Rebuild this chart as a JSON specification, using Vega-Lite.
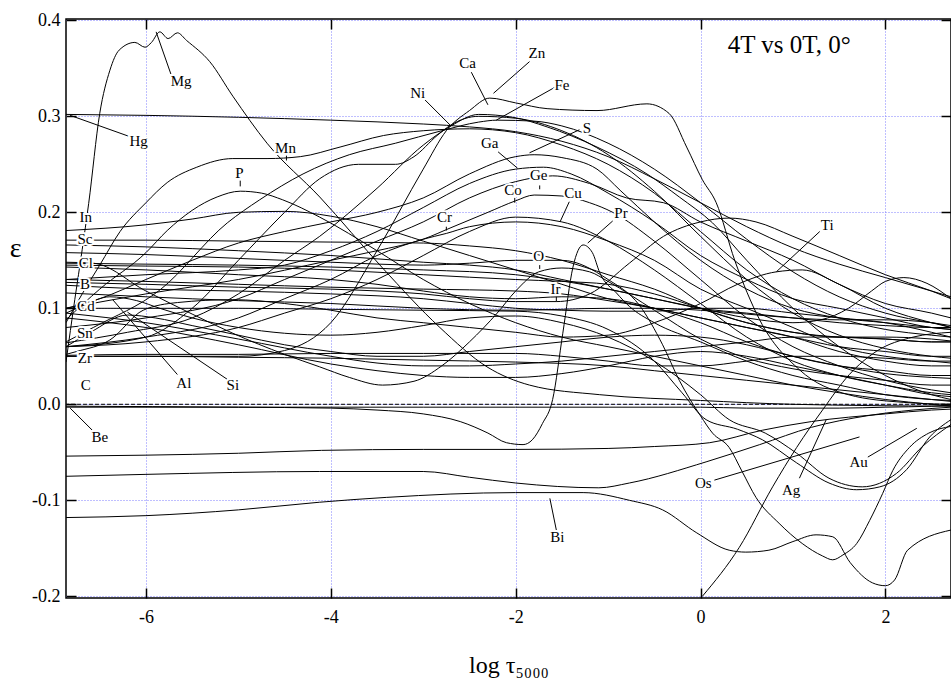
{
"$schema":"https://vega.github.io/schema/vega-lite/v6.json",
"width":885,"height":579,
"autosize":{"type":"none"},
"padding":{"left":66,"top":19,"right":0,"bottom":89},
"background":"white",
"config":{"view":{"stroke":"black","strokeWidth":1.5},"font":"Liberation Serif"},
"datasets":{
"curves":[
{"s":"Mg","x":-6.865,"y":0.044},{"s":"Mg","x":-6.77,"y":0.109},{"s":"Mg","x":-6.69,"y":0.161},{"s":"Mg","x":-6.62,"y":0.209},{"s":"Mg","x":-6.5,"y":0.303},{"s":"Mg","x":-6.39,"y":0.348},{"s":"Mg","x":-6.29,"y":0.369},{"s":"Mg","x":-6.12,"y":0.377},{"s":"Mg","x":-6.01,"y":0.372},{"s":"Mg","x":-5.94,"y":0.377},{"s":"Mg","x":-5.85,"y":0.388},{"s":"Mg","x":-5.76,"y":0.381},{"s":"Mg","x":-5.66,"y":0.387},{"s":"Mg","x":-5.56,"y":0.379},{"s":"Mg","x":-5.31,"y":0.357},{"s":"Mg","x":-5.06,"y":0.321},{"s":"Mg","x":-4.69,"y":0.272},{"s":"Mg","x":-4.12,"y":0.216},{"s":"Mg","x":-3.44,"y":0.142},{"s":"Mg","x":-2.82,"y":0.08},{"s":"Mg","x":-2.31,"y":0.039},{"s":"Mg","x":-1.85,"y":0.02},{"s":"Mg","x":-1.09,"y":0.01},{"s":"Mg","x":0,"y":0.004},{"s":"Mg","x":1,"y":0.0},{"s":"Mg","x":2.71,"y":-0.002},
{"s":"Hg","x":-6.865,"y":0.302},{"s":"Hg","x":-6,"y":0.301},{"s":"Hg","x":-5,"y":0.299},{"s":"Hg","x":-4,"y":0.296},{"s":"Hg","x":-3,"y":0.292},{"s":"Hg","x":-2.5,"y":0.289},{"s":"Hg","x":-2,"y":0.284},{"s":"Hg","x":-1.5,"y":0.274},{"s":"Hg","x":-1,"y":0.258},{"s":"Hg","x":-0.5,"y":0.235},{"s":"Hg","x":0,"y":0.21},{"s":"Hg","x":0.5,"y":0.185},{"s":"Hg","x":1,"y":0.163},{"s":"Hg","x":1.5,"y":0.146},{"s":"Hg","x":2,"y":0.132},{"s":"Hg","x":2.5,"y":0.118},{"s":"Hg","x":2.71,"y":0.112},
{"s":"Zn","x":-6.865,"y":0.05},{"s":"Zn","x":-6,"y":0.05},{"s":"Zn","x":-5,"y":0.05},{"s":"Zn","x":-4.5,"y":0.056},{"s":"Zn","x":-4,"y":0.085},{"s":"Zn","x":-3.5,"y":0.16},{"s":"Zn","x":-3,"y":0.245},{"s":"Zn","x":-2.75,"y":0.285},{"s":"Zn","x":-2.5,"y":0.306},{"s":"Zn","x":-2.28,"y":0.319},{"s":"Zn","x":-2,"y":0.314},{"s":"Zn","x":-1.66,"y":0.308},{"s":"Zn","x":-1.12,"y":0.306},{"s":"Zn","x":-0.58,"y":0.313},{"s":"Zn","x":-0.34,"y":0.303},{"s":"Zn","x":-0.15,"y":0.268},{"s":"Zn","x":0.02,"y":0.234},{"s":"Zn","x":0.17,"y":0.21},{"s":"Zn","x":0.37,"y":0.15},{"s":"Zn","x":0.64,"y":0.088},{"s":"Zn","x":1.07,"y":0.036},{"s":"Zn","x":1.6,"y":0.01},{"s":"Zn","x":2.2,"y":0.002},{"s":"Zn","x":2.71,"y":0.0},
{"s":"Ca","x":-6.865,"y":0.064},{"s":"Ca","x":-6.2,"y":0.075},{"s":"Ca","x":-5.5,"y":0.09},{"s":"Ca","x":-5,"y":0.115},{"s":"Ca","x":-4.5,"y":0.15},{"s":"Ca","x":-4.12,"y":0.175},{"s":"Ca","x":-3.5,"y":0.225},{"s":"Ca","x":-3,"y":0.27},{"s":"Ca","x":-2.7,"y":0.29},{"s":"Ca","x":-2.4,"y":0.302},{"s":"Ca","x":-2.03,"y":0.299},{"s":"Ca","x":-1.66,"y":0.289},{"s":"Ca","x":-1.12,"y":0.268},{"s":"Ca","x":-0.58,"y":0.24},{"s":"Ca","x":-0.23,"y":0.216},{"s":"Ca","x":0.13,"y":0.189},{"s":"Ca","x":0.5,"y":0.15},{"s":"Ca","x":1,"y":0.1},{"s":"Ca","x":1.5,"y":0.06},{"s":"Ca","x":2,"y":0.03},{"s":"Ca","x":2.5,"y":0.01},{"s":"Ca","x":2.71,"y":0.005},
{"s":"Ni","x":-6.865,"y":0.06},{"s":"Ni","x":-6,"y":0.07},{"s":"Ni","x":-5.5,"y":0.1},{"s":"Ni","x":-5,"y":0.15},{"s":"Ni","x":-4.5,"y":0.2},{"s":"Ni","x":-4.12,"y":0.235},{"s":"Ni","x":-3.7,"y":0.25},{"s":"Ni","x":-3.3,"y":0.25},{"s":"Ni","x":-3.1,"y":0.258},{"s":"Ni","x":-2.85,"y":0.28},{"s":"Ni","x":-2.7,"y":0.291},{"s":"Ni","x":-2.4,"y":0.3},{"s":"Ni","x":-2,"y":0.298},{"s":"Ni","x":-1.5,"y":0.285},{"s":"Ni","x":-1,"y":0.26},{"s":"Ni","x":-0.5,"y":0.222},{"s":"Ni","x":0,"y":0.175},{"s":"Ni","x":0.5,"y":0.13},{"s":"Ni","x":1,"y":0.095},{"s":"Ni","x":1.5,"y":0.072},{"s":"Ni","x":2,"y":0.058},{"s":"Ni","x":2.5,"y":0.05},{"s":"Ni","x":2.71,"y":0.048},
{"s":"Fe","x":-6.865,"y":0.065},{"s":"Fe","x":-6.57,"y":0.08},{"s":"Fe","x":-5.85,"y":0.119},{"s":"Fe","x":-5.12,"y":0.189},{"s":"Fe","x":-4.77,"y":0.213},{"s":"Fe","x":-4.3,"y":0.24},{"s":"Fe","x":-3.8,"y":0.26},{"s":"Fe","x":-3.3,"y":0.272},{"s":"Fe","x":-2.8,"y":0.285},{"s":"Fe","x":-2.4,"y":0.294},{"s":"Fe","x":-2.2,"y":0.296},{"s":"Fe","x":-1.8,"y":0.295},{"s":"Fe","x":-1.5,"y":0.29},{"s":"Fe","x":-1,"y":0.272},{"s":"Fe","x":-0.5,"y":0.245},{"s":"Fe","x":0,"y":0.21},{"s":"Fe","x":0.5,"y":0.172},{"s":"Fe","x":1,"y":0.138},{"s":"Fe","x":1.5,"y":0.112},{"s":"Fe","x":2,"y":0.095},{"s":"Fe","x":2.5,"y":0.085},{"s":"Fe","x":2.71,"y":0.082},
{"s":"Mn","x":-6.865,"y":0.085},{"s":"Mn","x":-6.69,"y":0.115},{"s":"Mn","x":-6.5,"y":0.145},{"s":"Mn","x":-6.28,"y":0.18},{"s":"Mn","x":-6,"y":0.21},{"s":"Mn","x":-5.77,"y":0.231},{"s":"Mn","x":-5.45,"y":0.247},{"s":"Mn","x":-5.06,"y":0.256},{"s":"Mn","x":-4.69,"y":0.256},{"s":"Mn","x":-4.33,"y":0.258},{"s":"Mn","x":-3.9,"y":0.268},{"s":"Mn","x":-3.43,"y":0.28},{"s":"Mn","x":-3,"y":0.285},{"s":"Mn","x":-2.5,"y":0.287},{"s":"Mn","x":-2,"y":0.283},{"s":"Mn","x":-1.5,"y":0.27},{"s":"Mn","x":-1,"y":0.25},{"s":"Mn","x":-0.5,"y":0.22},{"s":"Mn","x":0,"y":0.18},{"s":"Mn","x":0.5,"y":0.14},{"s":"Mn","x":1,"y":0.11},{"s":"Mn","x":1.5,"y":0.09},{"s":"Mn","x":2,"y":0.078},{"s":"Mn","x":2.5,"y":0.072},{"s":"Mn","x":2.71,"y":0.07},
{"s":"S","x":-6.865,"y":0.1},{"s":"S","x":-6.5,"y":0.11},{"s":"S","x":-6,"y":0.13},{"s":"S","x":-5.5,"y":0.15},{"s":"S","x":-5,"y":0.168},{"s":"S","x":-4.5,"y":0.18},{"s":"S","x":-4,"y":0.19},{"s":"S","x":-3.5,"y":0.2},{"s":"S","x":-3,"y":0.215},{"s":"S","x":-2.5,"y":0.24},{"s":"S","x":-2,"y":0.258},{"s":"S","x":-1.8,"y":0.26},{"s":"S","x":-1.5,"y":0.257},{"s":"S","x":-1.12,"y":0.245},{"s":"S","x":-0.87,"y":0.223},{"s":"S","x":-0.5,"y":0.19},{"s":"S","x":0,"y":0.15},{"s":"S","x":0.5,"y":0.12},{"s":"S","x":1,"y":0.1},{"s":"S","x":1.5,"y":0.09},{"s":"S","x":2,"y":0.085},{"s":"S","x":2.5,"y":0.08},{"s":"S","x":2.71,"y":0.078},
{"s":"Ga","x":-6.865,"y":0.13},{"s":"Ga","x":-6,"y":0.135},{"s":"Ga","x":-5,"y":0.14},{"s":"Ga","x":-4.5,"y":0.145},{"s":"Ga","x":-4,"y":0.16},{"s":"Ga","x":-3.5,"y":0.18},{"s":"Ga","x":-3,"y":0.205},{"s":"Ga","x":-2.5,"y":0.23},{"s":"Ga","x":-2,"y":0.245},{"s":"Ga","x":-1.7,"y":0.247},{"s":"Ga","x":-1.4,"y":0.24},{"s":"Ga","x":-1,"y":0.22},{"s":"Ga","x":-0.5,"y":0.19},{"s":"Ga","x":0,"y":0.155},{"s":"Ga","x":0.5,"y":0.13},{"s":"Ga","x":1,"y":0.11},{"s":"Ga","x":1.5,"y":0.1},{"s":"Ga","x":2,"y":0.09},{"s":"Ga","x":2.5,"y":0.08},{"s":"Ga","x":2.71,"y":0.078},
{"s":"Ge","x":-6.865,"y":0.08},{"s":"Ge","x":-6,"y":0.09},{"s":"Ge","x":-5,"y":0.11},{"s":"Ge","x":-4.5,"y":0.13},{"s":"Ge","x":-4,"y":0.15},{"s":"Ge","x":-3.5,"y":0.17},{"s":"Ge","x":-3,"y":0.19},{"s":"Ge","x":-2.5,"y":0.215},{"s":"Ge","x":-2,"y":0.232},{"s":"Ge","x":-1.6,"y":0.238},{"s":"Ge","x":-1.2,"y":0.23},{"s":"Ge","x":-0.8,"y":0.215},{"s":"Ge","x":-0.4,"y":0.21},{"s":"Ge","x":0,"y":0.19},{"s":"Ge","x":0.5,"y":0.17},{"s":"Ge","x":1,"y":0.15},{"s":"Ge","x":1.5,"y":0.125},{"s":"Ge","x":2,"y":0.105},{"s":"Ge","x":2.5,"y":0.095},{"s":"Ge","x":2.71,"y":0.09},
{"s":"Co","x":-6.865,"y":0.1},{"s":"Co","x":-6,"y":0.115},{"s":"Co","x":-5,"y":0.13},{"s":"Co","x":-4,"y":0.15},{"s":"Co","x":-3.5,"y":0.16},{"s":"Co","x":-3,"y":0.172},{"s":"Co","x":-2.7,"y":0.184},{"s":"Co","x":-2.3,"y":0.2},{"s":"Co","x":-2,"y":0.212},{"s":"Co","x":-1.8,"y":0.218},{"s":"Co","x":-1.5,"y":0.217},{"s":"Co","x":-1.2,"y":0.21},{"s":"Co","x":-0.95,"y":0.2},{"s":"Co","x":-0.5,"y":0.17},{"s":"Co","x":0,"y":0.13},{"s":"Co","x":0.5,"y":0.09},{"s":"Co","x":1,"y":0.06},{"s":"Co","x":1.5,"y":0.04},{"s":"Co","x":2,"y":0.025},{"s":"Co","x":2.5,"y":0.015},{"s":"Co","x":2.71,"y":0.012},
{"s":"Cu","x":-6.865,"y":0.06},{"s":"Cu","x":-6,"y":0.065},{"s":"Cu","x":-5,"y":0.08},{"s":"Cu","x":-4.5,"y":0.095},{"s":"Cu","x":-4,"y":0.11},{"s":"Cu","x":-3.5,"y":0.13},{"s":"Cu","x":-3,"y":0.155},{"s":"Cu","x":-2.5,"y":0.18},{"s":"Cu","x":-2,"y":0.195},{"s":"Cu","x":-1.5,"y":0.19},{"s":"Cu","x":-1,"y":0.17},{"s":"Cu","x":-0.5,"y":0.14},{"s":"Cu","x":0,"y":0.105},{"s":"Cu","x":0.5,"y":0.07},{"s":"Cu","x":1,"y":0.045},{"s":"Cu","x":1.5,"y":0.03},{"s":"Cu","x":2,"y":0.02},{"s":"Cu","x":2.5,"y":0.012},{"s":"Cu","x":2.71,"y":0.01},
{"s":"Cr","x":-6.865,"y":0.06},{"s":"Cr","x":-6,"y":0.07},{"s":"Cr","x":-5,"y":0.09},{"s":"Cr","x":-4.5,"y":0.11},{"s":"Cr","x":-4,"y":0.13},{"s":"Cr","x":-3.5,"y":0.155},{"s":"Cr","x":-3,"y":0.172},{"s":"Cr","x":-2.75,"y":0.178},{"s":"Cr","x":-2.5,"y":0.185},{"s":"Cr","x":-2,"y":0.19},{"s":"Cr","x":-1.5,"y":0.185},{"s":"Cr","x":-1,"y":0.17},{"s":"Cr","x":-0.5,"y":0.15},{"s":"Cr","x":0,"y":0.12},{"s":"Cr","x":0.5,"y":0.1},{"s":"Cr","x":1,"y":0.08},{"s":"Cr","x":1.5,"y":0.06},{"s":"Cr","x":2,"y":0.05},{"s":"Cr","x":2.5,"y":0.045},{"s":"Cr","x":2.71,"y":0.043},
{"s":"P","x":-6.865,"y":0.088},{"s":"P","x":-6.5,"y":0.12},{"s":"P","x":-6,"y":0.158},{"s":"P","x":-5.77,"y":0.181},{"s":"P","x":-5.23,"y":0.216},{"s":"P","x":-4.98,"y":0.222},{"s":"P","x":-4.75,"y":0.22},{"s":"P","x":-4.52,"y":0.213},{"s":"P","x":-4.12,"y":0.195},{"s":"P","x":-3.5,"y":0.16},{"s":"P","x":-3,"y":0.13},{"s":"P","x":-2.5,"y":0.105},{"s":"P","x":-2,"y":0.085},{"s":"P","x":-1.5,"y":0.07},{"s":"P","x":-1,"y":0.06},{"s":"P","x":-0.5,"y":0.05},{"s":"P","x":0,"y":0.04},{"s":"P","x":0.5,"y":0.03},{"s":"P","x":1,"y":0.02},{"s":"P","x":1.5,"y":0.012},{"s":"P","x":2,"y":0.005},{"s":"P","x":2.5,"y":0.0},{"s":"P","x":2.71,"y":-0.002},
{"s":"In","x":-6.865,"y":0.181},{"s":"In","x":-6,"y":0.187},{"s":"In","x":-5.5,"y":0.193},{"s":"In","x":-5,"y":0.2},{"s":"In","x":-4.5,"y":0.201},{"s":"In","x":-4,"y":0.196},{"s":"In","x":-3.5,"y":0.185},{"s":"In","x":-3,"y":0.17},{"s":"In","x":-2.5,"y":0.155},{"s":"In","x":-2,"y":0.14},{"s":"In","x":-1.5,"y":0.125},{"s":"In","x":-1,"y":0.11},{"s":"In","x":-0.5,"y":0.1},{"s":"In","x":0,"y":0.09},{"s":"In","x":0.5,"y":0.08},{"s":"In","x":1,"y":0.07},{"s":"In","x":1.5,"y":0.06},{"s":"In","x":2,"y":0.055},{"s":"In","x":2.5,"y":0.05},{"s":"In","x":2.71,"y":0.05},
{"s":"Sc1","x":-6.865,"y":0.171},{"s":"Sc1","x":-6,"y":0.171},{"s":"Sc1","x":-5,"y":0.17},{"s":"Sc1","x":-4,"y":0.169},{"s":"Sc1","x":-3,"y":0.168},{"s":"Sc1","x":-2.5,"y":0.165},{"s":"Sc1","x":-2,"y":0.16},{"s":"Sc1","x":-1.5,"y":0.15},{"s":"Sc1","x":-1,"y":0.135},{"s":"Sc1","x":-0.5,"y":0.12},{"s":"Sc1","x":0,"y":0.1},{"s":"Sc1","x":0.5,"y":0.085},{"s":"Sc1","x":1,"y":0.075},{"s":"Sc1","x":1.5,"y":0.07},{"s":"Sc1","x":2,"y":0.07},{"s":"Sc1","x":2.5,"y":0.068},{"s":"Sc1","x":2.71,"y":0.066},
{"s":"Sc2","x":-6.865,"y":0.166},{"s":"Sc2","x":-6,"y":0.164},{"s":"Sc2","x":-5,"y":0.16},{"s":"Sc2","x":-4,"y":0.155},{"s":"Sc2","x":-3,"y":0.148},{"s":"Sc2","x":-2.5,"y":0.145},{"s":"Sc2","x":-2,"y":0.14},{"s":"Sc2","x":-1.5,"y":0.13},{"s":"Sc2","x":-1,"y":0.12},{"s":"Sc2","x":-0.5,"y":0.11},{"s":"Sc2","x":0,"y":0.1},{"s":"Sc2","x":0.5,"y":0.095},{"s":"Sc2","x":1,"y":0.09},{"s":"Sc2","x":1.5,"y":0.085},{"s":"Sc2","x":2,"y":0.082},{"s":"Sc2","x":2.5,"y":0.08},{"s":"Sc2","x":2.71,"y":0.08},
{"s":"Sc3","x":-6.865,"y":0.158},{"s":"Sc3","x":-6,"y":0.156},{"s":"Sc3","x":-5,"y":0.152},{"s":"Sc3","x":-4,"y":0.148},{"s":"Sc3","x":-3,"y":0.145},{"s":"Sc3","x":-2.5,"y":0.147},{"s":"Sc3","x":-2,"y":0.15},{"s":"Sc3","x":-1.5,"y":0.15},{"s":"Sc3","x":-1,"y":0.13},{"s":"Sc3","x":-0.66,"y":0.103},{"s":"Sc3","x":-0.41,"y":0.062},{"s":"Sc3","x":-0.23,"y":0.025},{"s":"Sc3","x":0,"y":-0.012},{"s":"Sc3","x":0.13,"y":-0.03},{"s":"Sc3","x":0.31,"y":-0.045},{"s":"Sc3","x":0.45,"y":-0.07},{"s":"Sc3","x":0.6,"y":-0.097},{"s":"Sc3","x":0.85,"y":-0.124},{"s":"Sc3","x":1.1,"y":-0.145},{"s":"Sc3","x":1.32,"y":-0.158},{"s":"Sc3","x":1.43,"y":-0.162},{"s":"Sc3","x":1.54,"y":-0.157},{"s":"Sc3","x":1.69,"y":-0.145},{"s":"Sc3","x":1.83,"y":-0.121},{"s":"Sc3","x":1.97,"y":-0.093},{"s":"Sc3","x":2.08,"y":-0.069},{"s":"Sc3","x":2.26,"y":-0.045},{"s":"Sc3","x":2.47,"y":-0.03},{"s":"Sc3","x":2.71,"y":-0.023},
{"s":"Cl1","x":-6.865,"y":0.145},{"s":"Cl1","x":-6,"y":0.144},{"s":"Cl1","x":-5,"y":0.143},{"s":"Cl1","x":-4,"y":0.14},{"s":"Cl1","x":-3,"y":0.135},{"s":"Cl1","x":-2,"y":0.13},{"s":"Cl1","x":-1.5,"y":0.128},{"s":"Cl1","x":-1,"y":0.125},{"s":"Cl1","x":-0.5,"y":0.115},{"s":"Cl1","x":0,"y":0.1},{"s":"Cl1","x":0.5,"y":0.085},{"s":"Cl1","x":1,"y":0.075},{"s":"Cl1","x":1.5,"y":0.07},{"s":"Cl1","x":2,"y":0.068},{"s":"Cl1","x":2.5,"y":0.065},{"s":"Cl1","x":2.71,"y":0.065},
{"s":"Cl2","x":-6.865,"y":0.143},{"s":"Cl2","x":-6,"y":0.14},{"s":"Cl2","x":-5,"y":0.135},{"s":"Cl2","x":-4,"y":0.13},{"s":"Cl2","x":-3.5,"y":0.125},{"s":"Cl2","x":-3,"y":0.118},{"s":"Cl2","x":-2.5,"y":0.112},{"s":"Cl2","x":-2,"y":0.11},{"s":"Cl2","x":-1.5,"y":0.112},{"s":"Cl2","x":-1,"y":0.11},{"s":"Cl2","x":-0.5,"y":0.1},{"s":"Cl2","x":0,"y":0.085},{"s":"Cl2","x":0.5,"y":0.065},{"s":"Cl2","x":1,"y":0.05},{"s":"Cl2","x":1.5,"y":0.04},{"s":"Cl2","x":2,"y":0.035},{"s":"Cl2","x":2.5,"y":0.03},{"s":"Cl2","x":2.71,"y":0.03},
{"s":"Cl3","x":-6.865,"y":0.147},{"s":"Cl3","x":-6,"y":0.146},{"s":"Cl3","x":-5,"y":0.145},{"s":"Cl3","x":-4,"y":0.143},{"s":"Cl3","x":-3,"y":0.14},{"s":"Cl3","x":-2,"y":0.135},{"s":"Cl3","x":-1,"y":0.12},{"s":"Cl3","x":-0.5,"y":0.11},{"s":"Cl3","x":0,"y":0.1},{"s":"Cl3","x":0.5,"y":0.09},{"s":"Cl3","x":1,"y":0.085},{"s":"Cl3","x":1.3,"y":0.088},{"s":"Cl3","x":1.6,"y":0.1},{"s":"Cl3","x":1.85,"y":0.118},{"s":"Cl3","x":2.0,"y":0.128},{"s":"Cl3","x":2.2,"y":0.132},{"s":"Cl3","x":2.45,"y":0.126},{"s":"Cl3","x":2.71,"y":0.11},
{"s":"B1","x":-6.865,"y":0.13},{"s":"B1","x":-6,"y":0.128},{"s":"B1","x":-5,"y":0.125},{"s":"B1","x":-4,"y":0.122},{"s":"B1","x":-3,"y":0.12},{"s":"B1","x":-2,"y":0.118},{"s":"B1","x":-1.5,"y":0.115},{"s":"B1","x":-1,"y":0.108},{"s":"B1","x":-0.5,"y":0.1},{"s":"B1","x":0,"y":0.09},{"s":"B1","x":0.5,"y":0.08},{"s":"B1","x":1,"y":0.07},{"s":"B1","x":1.5,"y":0.055},{"s":"B1","x":2,"y":0.045},{"s":"B1","x":2.5,"y":0.04},{"s":"B1","x":2.71,"y":0.04},
{"s":"B2","x":-6.865,"y":0.124},{"s":"B2","x":-6,"y":0.12},{"s":"B2","x":-5,"y":0.118},{"s":"B2","x":-4,"y":0.115},{"s":"B2","x":-3,"y":0.11},{"s":"B2","x":-2.5,"y":0.105},{"s":"B2","x":-2,"y":0.1},{"s":"B2","x":-1.5,"y":0.098},{"s":"B2","x":-1,"y":0.097},{"s":"B2","x":-0.5,"y":0.097},{"s":"B2","x":0,"y":0.1},{"s":"B2","x":0.5,"y":0.1},{"s":"B2","x":1,"y":0.095},{"s":"B2","x":1.5,"y":0.09},{"s":"B2","x":2,"y":0.085},{"s":"B2","x":2.5,"y":0.075},{"s":"B2","x":2.71,"y":0.07},
{"s":"B3","x":-6.865,"y":0.116},{"s":"B3","x":-6,"y":0.112},{"s":"B3","x":-5,"y":0.108},{"s":"B3","x":-4,"y":0.105},{"s":"B3","x":-3,"y":0.1},{"s":"B3","x":-2,"y":0.098},{"s":"B3","x":-1,"y":0.1},{"s":"B3","x":-0.5,"y":0.1},{"s":"B3","x":0,"y":0.098},{"s":"B3","x":0.5,"y":0.094},{"s":"B3","x":1,"y":0.09},{"s":"B3","x":1.5,"y":0.088},{"s":"B3","x":2,"y":0.088},{"s":"B3","x":2.5,"y":0.085},{"s":"B3","x":2.71,"y":0.08},
{"s":"Ir","x":-6.865,"y":0.127},{"s":"Ir","x":-6,"y":0.125},{"s":"Ir","x":-5,"y":0.122},{"s":"Ir","x":-4,"y":0.12},{"s":"Ir","x":-3,"y":0.115},{"s":"Ir","x":-2.5,"y":0.11},{"s":"Ir","x":-2,"y":0.107},{"s":"Ir","x":-1.56,"y":0.107},{"s":"Ir","x":-1.2,"y":0.115},{"s":"Ir","x":-0.77,"y":0.147},{"s":"Ir","x":-0.4,"y":0.175},{"s":"Ir","x":0,"y":0.19},{"s":"Ir","x":0.31,"y":0.194},{"s":"Ir","x":0.6,"y":0.19},{"s":"Ir","x":1,"y":0.175},{"s":"Ir","x":1.5,"y":0.155},{"s":"Ir","x":2,"y":0.135},{"s":"Ir","x":2.5,"y":0.118},{"s":"Ir","x":2.71,"y":0.11},
{"s":"Cd","x":-6.865,"y":0.1},{"s":"Cd","x":-6,"y":0.1},{"s":"Cd","x":-5,"y":0.1},{"s":"Cd","x":-4,"y":0.099},{"s":"Cd","x":-3,"y":0.098},{"s":"Cd","x":-2,"y":0.097},{"s":"Cd","x":-1.5,"y":0.092},{"s":"Cd","x":-1,"y":0.078},{"s":"Cd","x":-0.5,"y":0.045},{"s":"Cd","x":-0.2,"y":0.012},{"s":"Cd","x":0.06,"y":-0.016},{"s":"Cd","x":0.4,"y":-0.026},{"s":"Cd","x":0.67,"y":-0.037},{"s":"Cd","x":1.04,"y":-0.061},{"s":"Cd","x":1.39,"y":-0.082},{"s":"Cd","x":1.69,"y":-0.089},{"s":"Cd","x":1.94,"y":-0.086},{"s":"Cd","x":2.23,"y":-0.068},{"s":"Cd","x":2.48,"y":-0.034},{"s":"Cd","x":2.71,"y":-0.016},
{"s":"O","x":-6.865,"y":0.148},{"s":"O","x":-6.57,"y":0.147},{"s":"O","x":-6,"y":0.118},{"s":"O","x":-5.5,"y":0.094},{"s":"O","x":-5.06,"y":0.074},{"s":"O","x":-4.5,"y":0.052},{"s":"O","x":-4.12,"y":0.039},{"s":"O","x":-3.8,"y":0.028},{"s":"O","x":-3.44,"y":0.02},{"s":"O","x":-3.1,"y":0.024},{"s":"O","x":-2.8,"y":0.04},{"s":"O","x":-2.5,"y":0.065},{"s":"O","x":-2.2,"y":0.095},{"s":"O","x":-2,"y":0.118},{"s":"O","x":-1.75,"y":0.138},{"s":"O","x":-1.5,"y":0.142},{"s":"O","x":-1.2,"y":0.138},{"s":"O","x":-1,"y":0.128},{"s":"O","x":-0.5,"y":0.098},{"s":"O","x":0,"y":0.068},{"s":"O","x":0.5,"y":0.048},{"s":"O","x":1,"y":0.037},{"s":"O","x":1.5,"y":0.03},{"s":"O","x":2,"y":0.025},{"s":"O","x":2.5,"y":0.02},{"s":"O","x":2.71,"y":0.02},
{"s":"Al","x":-6.865,"y":0.095},{"s":"Al","x":-6.7,"y":0.102},{"s":"Al","x":-6.39,"y":0.112},{"s":"Al","x":-6.1,"y":0.108},{"s":"Al","x":-5.85,"y":0.1},{"s":"Al","x":-5.5,"y":0.09},{"s":"Al","x":-5,"y":0.08},{"s":"Al","x":-4.5,"y":0.074},{"s":"Al","x":-4,"y":0.072},{"s":"Al","x":-3.5,"y":0.075},{"s":"Al","x":-3,"y":0.082},{"s":"Al","x":-2.5,"y":0.09},{"s":"Al","x":-2,"y":0.092},{"s":"Al","x":-1.5,"y":0.085},{"s":"Al","x":-1,"y":0.07},{"s":"Al","x":-0.5,"y":0.045},{"s":"Al","x":0,"y":0.01},{"s":"Al","x":0.31,"y":-0.016},{"s":"Al","x":0.7,"y":-0.03},{"s":"Al","x":1.04,"y":-0.051},{"s":"Al","x":1.39,"y":-0.077},{"s":"Al","x":1.75,"y":-0.086},{"s":"Al","x":2.12,"y":-0.072},{"s":"Al","x":2.4,"y":-0.044},{"s":"Al","x":2.71,"y":-0.021},
{"s":"Si","x":-6.865,"y":0.06},{"s":"Si","x":-6.6,"y":0.075},{"s":"Si","x":-6.2,"y":0.093},{"s":"Si","x":-5.9,"y":0.09},{"s":"Si","x":-5.5,"y":0.082},{"s":"Si","x":-5,"y":0.072},{"s":"Si","x":-4.5,"y":0.062},{"s":"Si","x":-4,"y":0.055},{"s":"Si","x":-3.5,"y":0.05},{"s":"Si","x":-3,"y":0.05},{"s":"Si","x":-2.5,"y":0.055},{"s":"Si","x":-2,"y":0.06},{"s":"Si","x":-1.5,"y":0.065},{"s":"Si","x":-1,"y":0.07},{"s":"Si","x":-0.5,"y":0.072},{"s":"Si","x":0,"y":0.07},{"s":"Si","x":0.5,"y":0.062},{"s":"Si","x":1,"y":0.05},{"s":"Si","x":1.5,"y":0.04},{"s":"Si","x":2,"y":0.032},{"s":"Si","x":2.5,"y":0.028},{"s":"Si","x":2.71,"y":0.027},
{"s":"Sn1","x":-6.865,"y":0.095},{"s":"Sn1","x":-6,"y":0.085},{"s":"Sn1","x":-5,"y":0.068},{"s":"Sn1","x":-4,"y":0.05},{"s":"Sn1","x":-3.5,"y":0.043},{"s":"Sn1","x":-3,"y":0.04},{"s":"Sn1","x":-2.5,"y":0.04},{"s":"Sn1","x":-2,"y":0.042},{"s":"Sn1","x":-1.5,"y":0.045},{"s":"Sn1","x":-1,"y":0.05},{"s":"Sn1","x":-0.5,"y":0.055},{"s":"Sn1","x":0,"y":0.06},{"s":"Sn1","x":0.5,"y":0.065},{"s":"Sn1","x":1,"y":0.07},{"s":"Sn1","x":1.5,"y":0.07},{"s":"Sn1","x":2,"y":0.068},{"s":"Sn1","x":2.5,"y":0.065},{"s":"Sn1","x":2.71,"y":0.065},
{"s":"Sn2","x":-6.865,"y":0.09},{"s":"Sn2","x":-6,"y":0.08},{"s":"Sn2","x":-5,"y":0.062},{"s":"Sn2","x":-4,"y":0.042},{"s":"Sn2","x":-3.5,"y":0.035},{"s":"Sn2","x":-3,"y":0.03},{"s":"Sn2","x":-2.5,"y":0.028},{"s":"Sn2","x":-2,"y":0.028},{"s":"Sn2","x":-1.5,"y":0.032},{"s":"Sn2","x":-1,"y":0.04},{"s":"Sn2","x":-0.5,"y":0.05},{"s":"Sn2","x":0,"y":0.055},{"s":"Sn2","x":0.5,"y":0.05},{"s":"Sn2","x":1,"y":0.04},{"s":"Sn2","x":1.5,"y":0.03},{"s":"Sn2","x":2,"y":0.02},{"s":"Sn2","x":2.5,"y":0.01},{"s":"Sn2","x":2.71,"y":0.008},
{"s":"Zr","x":-6.865,"y":0.051},{"s":"Zr","x":-6,"y":0.052},{"s":"Zr","x":-5,"y":0.052},{"s":"Zr","x":-4,"y":0.053},{"s":"Zr","x":-3,"y":0.053},{"s":"Zr","x":-2,"y":0.053},{"s":"Zr","x":-1.5,"y":0.05},{"s":"Zr","x":-1,"y":0.045},{"s":"Zr","x":-0.5,"y":0.04},{"s":"Zr","x":0,"y":0.04},{"s":"Zr","x":0.5,"y":0.045},{"s":"Zr","x":1,"y":0.05},{"s":"Zr","x":1.5,"y":0.05},{"s":"Zr","x":2,"y":0.048},{"s":"Zr","x":2.5,"y":0.045},{"s":"Zr","x":2.71,"y":0.045},
{"s":"Zr2","x":-6.865,"y":0.05},{"s":"Zr2","x":-6,"y":0.05},{"s":"Zr2","x":-5,"y":0.049},{"s":"Zr2","x":-4,"y":0.048},{"s":"Zr2","x":-3,"y":0.046},{"s":"Zr2","x":-2,"y":0.044},{"s":"Zr2","x":-1,"y":0.04},{"s":"Zr2","x":-0.5,"y":0.035},{"s":"Zr2","x":0,"y":0.03},{"s":"Zr2","x":0.5,"y":0.025},{"s":"Zr2","x":1,"y":0.02},{"s":"Zr2","x":1.5,"y":0.015},{"s":"Zr2","x":2,"y":0.01},{"s":"Zr2","x":2.5,"y":0.005},{"s":"Zr2","x":2.71,"y":0.003},
{"s":"Ti","x":-6.865,"y":0.052},{"s":"Ti","x":-6.75,"y":0.055},{"s":"Ti","x":-6.39,"y":0.067},{"s":"Ti","x":-6.03,"y":0.098},{"s":"Ti","x":-5.66,"y":0.106},{"s":"Ti","x":-5.06,"y":0.109},{"s":"Ti","x":-4.5,"y":0.105},{"s":"Ti","x":-4,"y":0.098},{"s":"Ti","x":-3.5,"y":0.09},{"s":"Ti","x":-3,"y":0.085},{"s":"Ti","x":-2.5,"y":0.08},{"s":"Ti","x":-2,"y":0.075},{"s":"Ti","x":-1.5,"y":0.07},{"s":"Ti","x":-1,"y":0.072},{"s":"Ti","x":-0.5,"y":0.085},{"s":"Ti","x":0,"y":0.105},{"s":"Ti","x":0.4,"y":0.125},{"s":"Ti","x":0.82,"y":0.138},{"s":"Ti","x":1.1,"y":0.14},{"s":"Ti","x":1.5,"y":0.125},{"s":"Ti","x":2,"y":0.1},{"s":"Ti","x":2.5,"y":0.085},{"s":"Ti","x":2.71,"y":0.08},
{"s":"Be","x":-6.865,"y":-0.003},{"s":"Be","x":-5,"y":-0.003},{"s":"Be","x":-3,"y":-0.003},{"s":"Be","x":-2,"y":-0.003},{"s":"Be","x":-1,"y":-0.003},{"s":"Be","x":0,"y":-0.003},{"s":"Be","x":0.5,"y":-0.004},{"s":"Be","x":1,"y":-0.004},{"s":"Be","x":1.5,"y":-0.004},{"s":"Be","x":2,"y":-0.003},{"s":"Be","x":2.5,"y":-0.002},{"s":"Be","x":2.71,"y":-0.001},
{"s":"Pr","x":-6.865,"y":-0.002},{"s":"Pr","x":-5,"y":-0.003},{"s":"Pr","x":-4,"y":-0.004},{"s":"Pr","x":-3.5,"y":-0.006},{"s":"Pr","x":-3,"y":-0.01},{"s":"Pr","x":-2.6,"y":-0.018},{"s":"Pr","x":-2.3,"y":-0.03},{"s":"Pr","x":-2.1,"y":-0.04},{"s":"Pr","x":-1.92,"y":-0.042},{"s":"Pr","x":-1.82,"y":-0.037},{"s":"Pr","x":-1.71,"y":-0.02},{"s":"Pr","x":-1.6,"y":0.005},{"s":"Pr","x":-1.49,"y":0.074},{"s":"Pr","x":-1.38,"y":0.143},{"s":"Pr","x":-1.27,"y":0.166},{"s":"Pr","x":-1.17,"y":0.158},{"s":"Pr","x":-1.09,"y":0.137},{"s":"Pr","x":-0.91,"y":0.116},{"s":"Pr","x":-0.77,"y":0.102},{"s":"Pr","x":-0.5,"y":0.085},{"s":"Pr","x":0,"y":0.065},{"s":"Pr","x":0.5,"y":0.045},{"s":"Pr","x":1,"y":0.03},{"s":"Pr","x":1.5,"y":0.02},{"s":"Pr","x":2,"y":0.01},{"s":"Pr","x":2.5,"y":0.005},{"s":"Pr","x":2.71,"y":0.004},
{"s":"Au","x":-6.865,"y":-0.054},{"s":"Au","x":-6,"y":-0.053},{"s":"Au","x":-5,"y":-0.051},{"s":"Au","x":-4.1,"y":-0.048},{"s":"Au","x":-3,"y":-0.047},{"s":"Au","x":-2,"y":-0.047},{"s":"Au","x":-1,"y":-0.046},{"s":"Au","x":-0.5,"y":-0.044},{"s":"Au","x":0.1,"y":-0.04},{"s":"Au","x":0.67,"y":-0.027},{"s":"Au","x":1.2,"y":-0.018},{"s":"Au","x":2,"y":-0.01},{"s":"Au","x":2.5,"y":-0.006},{"s":"Au","x":2.71,"y":-0.005},
{"s":"Os","x":-6.865,"y":-0.075},{"s":"Os","x":-6,"y":-0.073},{"s":"Os","x":-4.12,"y":-0.07},{"s":"Os","x":-3,"y":-0.07},{"s":"Os","x":-2.5,"y":-0.076},{"s":"Os","x":-2,"y":-0.082},{"s":"Os","x":-1.1,"y":-0.087},{"s":"Os","x":-0.77,"y":-0.082},{"s":"Os","x":0.06,"y":-0.06},{"s":"Os","x":0.64,"y":-0.042},{"s":"Os","x":1.2,"y":-0.024},{"s":"Os","x":1.8,"y":-0.012},{"s":"Os","x":2.3,"y":-0.006},{"s":"Os","x":2.71,"y":-0.003},
{"s":"Bi","x":-6.865,"y":-0.118},{"s":"Bi","x":-6,"y":-0.116},{"s":"Bi","x":-5,"y":-0.11},{"s":"Bi","x":-4.12,"y":-0.102},{"s":"Bi","x":-3.4,"y":-0.097},{"s":"Bi","x":-2,"y":-0.092},{"s":"Bi","x":-1.27,"y":-0.092},{"s":"Bi","x":-0.77,"y":-0.1},{"s":"Bi","x":-0.41,"y":-0.11},{"s":"Bi","x":-0.04,"y":-0.134},{"s":"Bi","x":0.31,"y":-0.152},{"s":"Bi","x":0.49,"y":-0.154},{"s":"Bi","x":0.74,"y":-0.152},{"s":"Bi","x":1,"y":-0.143},{"s":"Bi","x":1.25,"y":-0.136},{"s":"Bi","x":1.43,"y":-0.138},{"s":"Bi","x":1.62,"y":-0.165},{"s":"Bi","x":1.86,"y":-0.186},{"s":"Bi","x":2.0,"y":-0.189},{"s":"Bi","x":2.1,"y":-0.183},{"s":"Bi","x":2.24,"y":-0.152},{"s":"Bi","x":2.71,"y":-0.131},
{"s":"Ag","x":0.02,"y":-0.2},{"s":"Ag","x":0.42,"y":-0.149},{"s":"Ag","x":0.78,"y":-0.086},{"s":"Ag","x":1.04,"y":-0.045},{"s":"Ag","x":1.32,"y":-0.006},{"s":"Ag","x":1.61,"y":0.031},{"s":"Ag","x":1.9,"y":0.055},{"s":"Ag","x":2.3,"y":0.07},{"s":"Ag","x":2.71,"y":0.075}
],
"labels":[
{"t":"Mg","x":-5.62,"y":0.337},{"t":"Hg","x":-6.08,"y":0.274},{"t":"Mn","x":-4.49,"y":0.267},{"t":"P","x":-4.99,"y":0.241},{"t":"In","x":-6.65,"y":0.195},{"t":"Sc","x":-6.66,"y":0.172},{"t":"Cl","x":-6.65,"y":0.147},{"t":"B","x":-6.66,"y":0.125},{"t":"Cd","x":-6.65,"y":0.102},{"t":"Sn","x":-6.66,"y":0.074},{"t":"Zr","x":-6.66,"y":0.048},{"t":"C","x":-6.65,"y":0.02},{"t":"Be","x":-6.5,"y":-0.034},{"t":"Al","x":-5.59,"y":0.022},{"t":"Si","x":-5.06,"y":0.02},{"t":"Ca","x":-2.52,"y":0.356},{"t":"Zn","x":-1.77,"y":0.366},{"t":"Ni","x":-3.06,"y":0.324},{"t":"Fe","x":-1.5,"y":0.333},{"t":"S","x":-1.23,"y":0.288},{"t":"Ga","x":-2.28,"y":0.272},{"t":"Ge","x":-1.75,"y":0.239},{"t":"Co","x":-2.03,"y":0.223},{"t":"Cu","x":-1.38,"y":0.22},{"t":"Pr","x":-0.86,"y":0.199},{"t":"Cr","x":-2.77,"y":0.195},{"t":"O","x":-1.75,"y":0.155},{"t":"Ir","x":-1.57,"y":0.12},{"t":"Ti","x":1.37,"y":0.187},{"t":"Os","x":0.03,"y":-0.082},{"t":"Ag","x":0.98,"y":-0.089},{"t":"Au","x":1.71,"y":-0.06},{"t":"Bi","x":-1.55,"y":-0.138}
],
"leaders":[
{"x":-5.73,"y":0.344,"x2":-5.89,"y2":0.388},{"x":-6.15,"y":0.278,"x2":-6.82,"y2":0.301},{"x":-4.48,"y":0.259,"x2":-4.48,"y2":0.254},{"x":-4.98,"y":0.233,"x2":-4.98,"y2":0.227},{"x":-6.56,"y":-0.029,"x2":-6.82,"y2":-0.004},{"x":-5.66,"y":0.031,"x2":-6.36,"y2":0.109},{"x":-5.12,"y":0.026,"x2":-6.2,"y2":0.096},{"x":-2.48,"y":0.346,"x2":-2.3,"y2":0.312},{"x":-1.85,"y":0.357,"x2":-2.24,"y2":0.324},{"x":-2.98,"y":0.317,"x2":-2.71,"y2":0.291},{"x":-1.58,"y":0.33,"x2":-2.21,"y2":0.296},{"x":-1.31,"y":0.286,"x2":-1.85,"y2":0.262},{"x":-2.19,"y":0.263,"x2":-1.98,"y2":0.246},{"x":-1.74,"y":0.228,"x2":-1.74,"y2":0.224},{"x":-2.01,"y":0.215,"x2":-2.01,"y2":0.21},{"x":-1.42,"y":0.211,"x2":-1.52,"y2":0.19},{"x":-0.95,"y":0.191,"x2":-1.22,"y2":0.168},{"x":-2.75,"y":0.185,"x2":-2.75,"y2":0.181},{"x":-1.74,"y":0.145,"x2":-1.74,"y2":0.141},{"x":-1.56,"y":0.112,"x2":-1.56,"y2":0.107},{"x":1.29,"y":0.18,"x2":0.82,"y2":0.138},{"x":0.15,"y":-0.079,"x2":1.72,"y2":-0.034},{"x":1.07,"y":-0.077,"x2":1.36,"y2":-0.016},{"x":1.81,"y":-0.055,"x2":2.34,"y2":-0.025},{"x":-1.56,"y":-0.131,"x2":-1.63,"y2":-0.098}
],
"note":[{"t":"4T vs 0T, 0°","x":0.96,"y":0.374}],
"zero":[{"y":0}]
},
"resolve":{"axis":{"x":"independent","y":"independent"}},
"layer":[
{"data":{"name":"curves"},
 "mark":{"type":"line","interpolate":"monotone","strokeWidth":1,"color":"black","clip":true},
 "encoding":{
  "x":{"field":"x","type":"quantitative","scale":{"domain":[-6.865,2.71],"nice":false,"zero":false},
   "axis":{"values":[-6,-4,-2,0,2],"title":"log τ₅₀₀₀","titleFont":"Liberation Serif","titleFontSize":24,"titleFontWeight":"normal","titleColor":"black","titleY":74,"titleBaseline":"alphabetic",
    "labelFont":"Liberation Serif","labelFontSize":18,"labelColor":"black","labelPadding":20,"labelExpr":"replace(datum.label,'−','-')",
    "grid":true,"gridColor":"#7f7fff","gridDash":[1,2],"gridWidth":1,"domain":false,"tickSize":-10,"tickColor":"black","tickWidth":1.5}},
  "y":{"field":"y","type":"quantitative","scale":{"domain":[-0.2018,0.4014],"nice":false,"zero":false},
   "axis":{"values":[-0.2,-0.1,0,0.1,0.2,0.3,0.4],"format":".1f","title":"ε","titleFont":"Liberation Serif","titleFontSize":28,"titleFontWeight":"normal","titleColor":"black","titleAngle":0,"titleX":-51,"titleY":229,"titleAlign":"center","titleBaseline":"middle",
    "labelFont":"Liberation Serif","labelFontSize":18,"labelColor":"black","labelPadding":16,"labelExpr":"replace(datum.label,'−','-')",
    "grid":true,"gridColor":"#7f7fff","gridDash":[1,2],"gridWidth":1,"domain":false,"tickSize":-10,"tickColor":"black","tickWidth":1.5}},
  "detail":{"field":"s"}}},
{"data":{"name":"zero"},
 "mark":{"type":"rule","color":"black","strokeDash":[4,2],"strokeWidth":1},
 "encoding":{"y":{"field":"y","type":"quantitative","axis":null}}},
{"data":{"name":"leaders"},
 "mark":{"type":"rule","color":"black","strokeWidth":1},
 "encoding":{"x":{"field":"x","type":"quantitative","axis":null},"y":{"field":"y","type":"quantitative","axis":null},"x2":{"field":"x2"},"y2":{"field":"y2"}}},
{"data":{"name":"labels"},
 "mark":{"type":"text","font":"Liberation Serif","fontSize":15,"stroke":"white","strokeWidth":4,"fill":"white","align":"center","baseline":"middle"},
 "encoding":{"x":{"field":"x","type":"quantitative","axis":null},"y":{"field":"y","type":"quantitative","axis":null},"text":{"field":"t"}}},
{"data":{"name":"labels"},
 "mark":{"type":"text","font":"Liberation Serif","fontSize":15,"color":"black","align":"center","baseline":"middle"},
 "encoding":{"x":{"field":"x","type":"quantitative","axis":null},"y":{"field":"y","type":"quantitative","axis":null},"text":{"field":"t"}}},
{"data":{"name":"note"},
 "mark":{"type":"text","font":"Liberation Serif","fontSize":25,"color":"black","align":"center","baseline":"middle"},
 "encoding":{"x":{"field":"x","type":"quantitative","axis":{"orient":"top","values":[-6,-4,-2,0,2],"labels":false,"title":null,"grid":false,"domain":false,"tickSize":-10,"tickColor":"black","tickWidth":1.5}},
  "y":{"field":"y","type":"quantitative","axis":{"orient":"right","values":[-0.2,-0.1,0,0.1,0.2,0.3,0.4],"labels":false,"title":null,"grid":false,"domain":false,"tickSize":-10,"tickColor":"black","tickWidth":1.5}},
  "text":{"field":"t"}}}
]
}
